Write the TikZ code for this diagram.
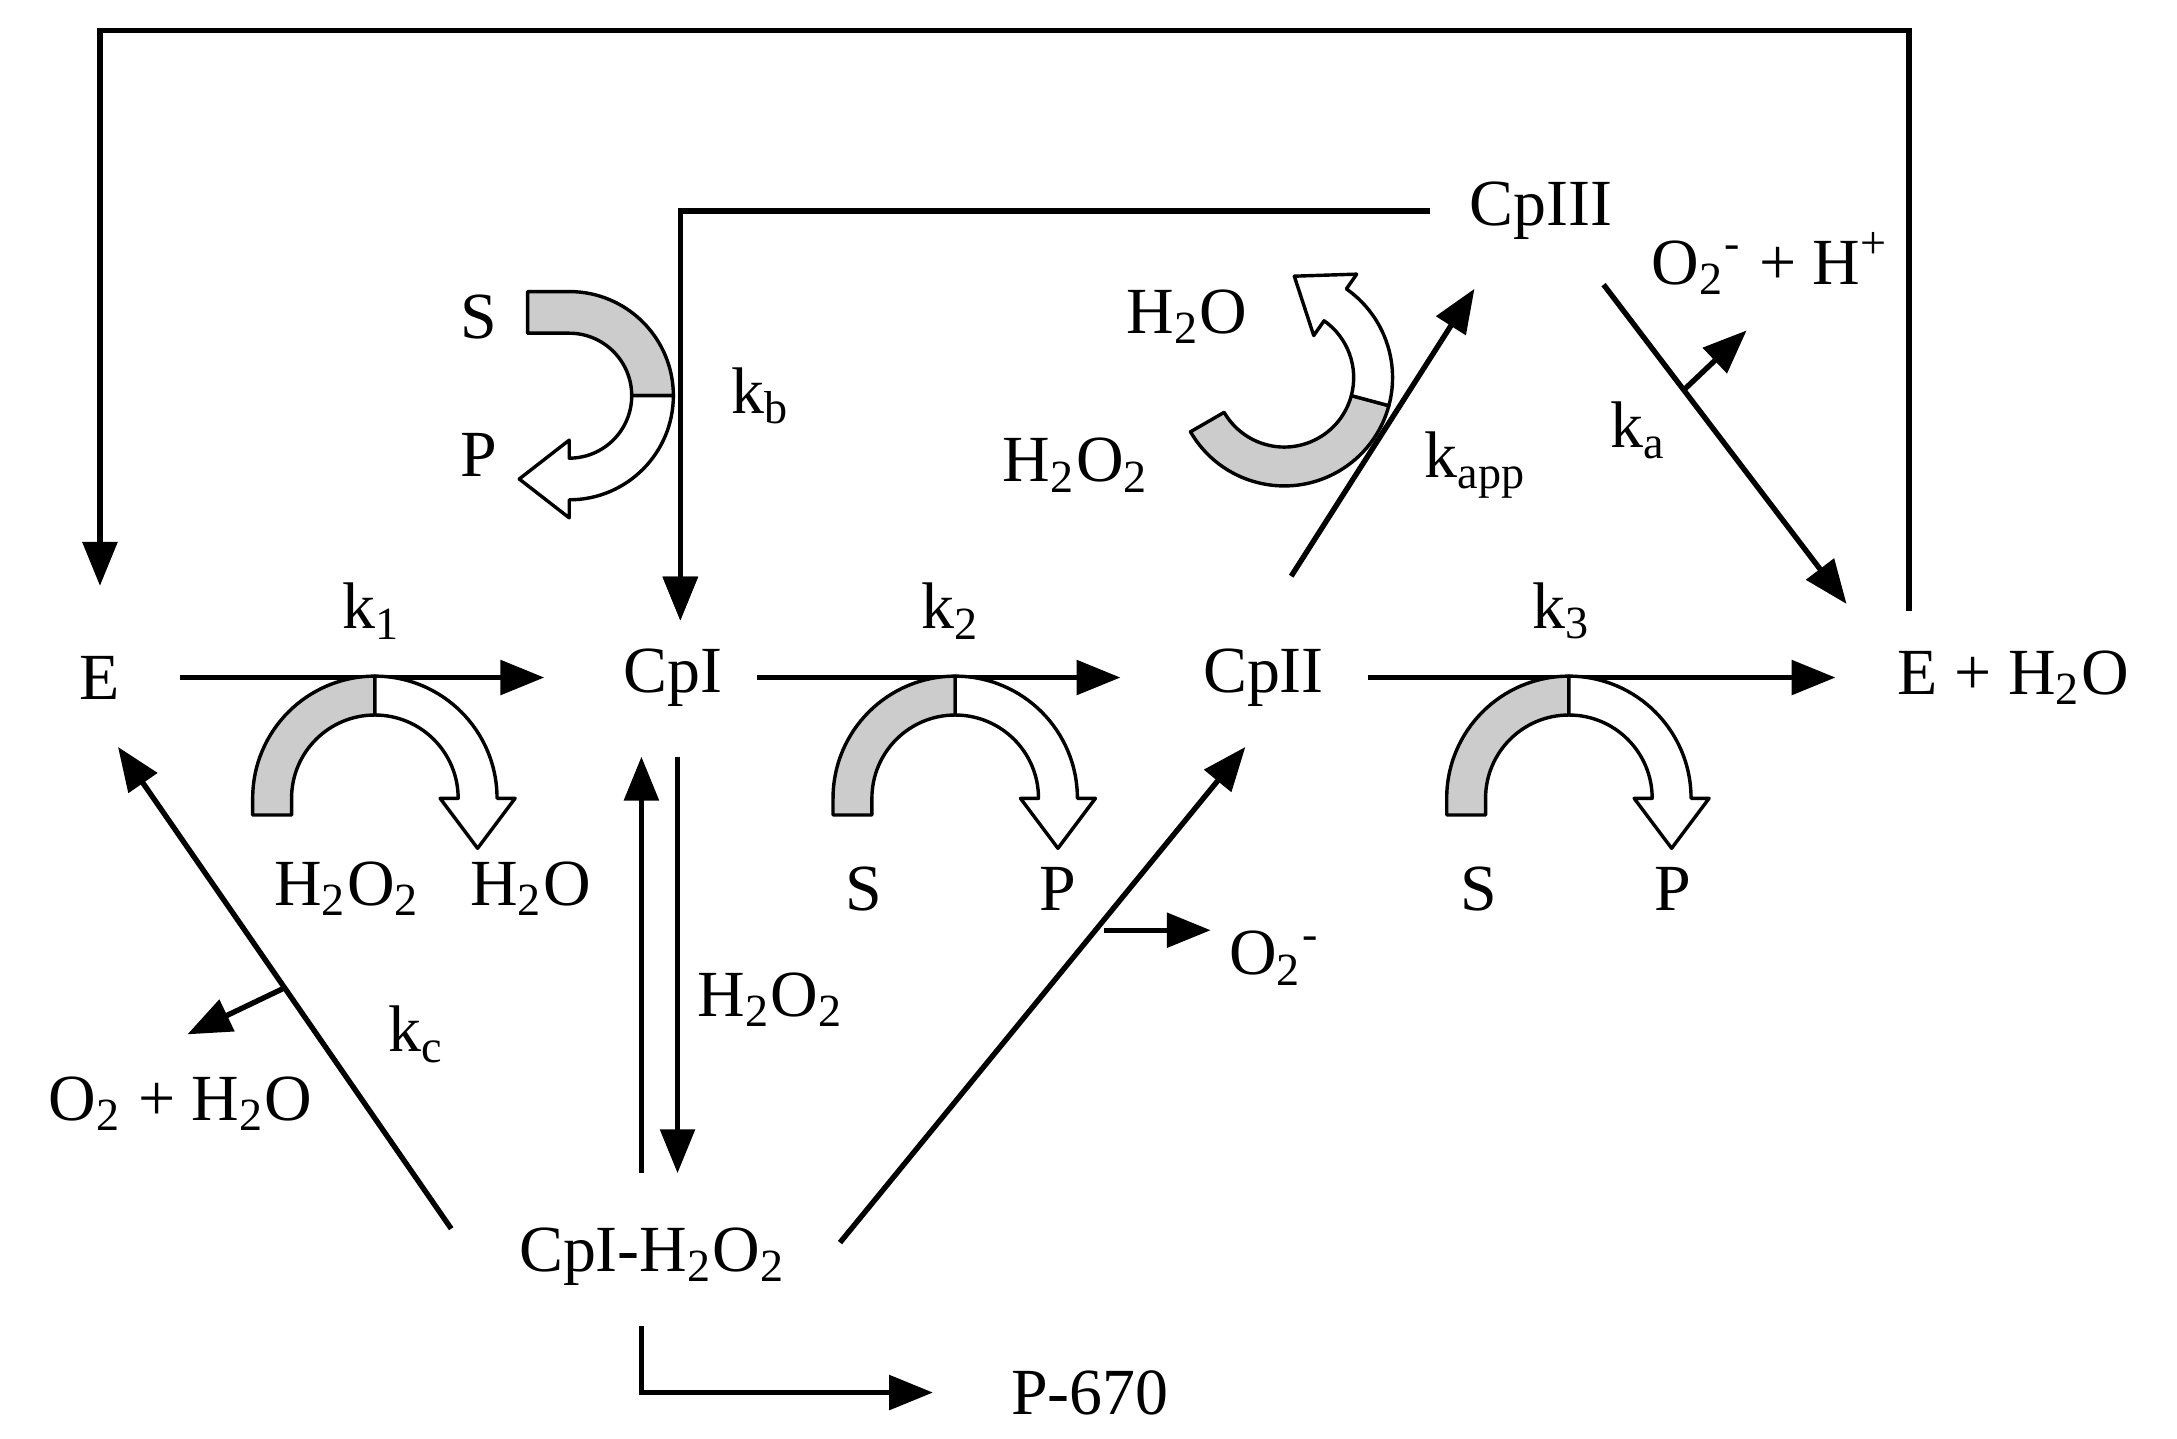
\documentclass[tikz,border=0pt]{standalone}
\usepackage{fontspec}
\setmainfont{Liberation Serif}
\usetikzlibrary{calc,arrows.meta}
\newcommand\bandarrow[9]{%
 \coordinate (bc) at (#1,#2);
 \pgfmathsetmacro\rmid{(#3+#4)/2}
 \pgfmathsetmacro\tb{#5-#8*90}
 \pgfmathsetmacro\te{#7+#8*90}
 \pgfmathsetmacro\ri{#3-13}\pgfmathsetmacro\ro{#4+13}
 \filldraw[band,fill=gray!40] ($(bc)+(#5:#4)+(\tb:#9)$) -- ($(bc)+(#5:#4)$) arc[start angle=#5,end angle=#6,radius=#4]
   -- ($(bc)+(#6:#3)$) arc[start angle=#6,end angle=#5,radius=#3] -- ($(bc)+(#5:#3)+(\tb:#9)$) -- cycle;
 \filldraw[band,fill=white] ($(bc)+(#6:#4)$) arc[start angle=#6,end angle=#7,radius=#4]
   -- ($(bc)+(#7:\ro)$) -- ($(bc)+(#7:\rmid)+(\te:36)$) -- ($(bc)+(#7:\ri)$) -- ($(bc)+(#7:#3)$)
   arc[start angle=#7,end angle=#6,radius=#3] -- cycle;
}
\begin{document}
\begin{tikzpicture}[x=0.1mm,y=-0.1mm,
  lbl/.style={font=\fontsize{13.5}{15}\selectfont,inner sep=1pt},
  ar/.style={line width=1.1pt,-{Triangle[length=9pt,width=7pt]}},
  ln/.style={line width=1.1pt},
  band/.style={line width=0.7pt,line join=round}]
\useasboundingbox (0,0) rectangle (1568,1036);
\node[lbl] (E) at (72,488) {E};
\node[lbl] (CpI) at (485,488) {CpI};
\node[lbl] (CpII) at (910,488) {CpII};
\node[lbl] (EH) at (1450,488) {E + H\textsubscript{2}O};
\node[lbl] (CpIII) at (1110,152) {CpIII};
\node[lbl] (CpIH) at (470,905) {CpI-H\textsubscript{2}O\textsubscript{2}};
\node[lbl] (P670) at (785,1003) {P-670};
\node[lbl] at (268,440) {k\textsubscript{1}};
\node[lbl] at (685,440) {k\textsubscript{2}};
\node[lbl] at (1125,440) {k\textsubscript{3}};
\node[lbl] at (345,228) {S};
\node[lbl] at (548,285) {k\textsubscript{b}};
\node[lbl] at (345,328) {P};
\node[lbl] at (855,228) {H\textsubscript{2}O};
\node[lbl] at (775,335) {H\textsubscript{2}O\textsubscript{2}};
\node[lbl] at (1063,335) {k\textsubscript{app}};
\node[lbl] at (1180,310) {k\textsubscript{a}};
\node[lbl] (o2h) at (1275,190) {O\textsubscript{2}\textsuperscript{-} + H\textsuperscript{+}};
\node[lbl] at (250,640) {H\textsubscript{2}O\textsubscript{2}};
\node[lbl] at (382,640) {H\textsubscript{2}O};
\node[lbl] at (622,640) {S};
\node[lbl] at (762,640) {P};
\node[lbl] at (1065,640) {S};
\node[lbl] at (1205,640) {P};
\node[lbl] at (555,720) {H\textsubscript{2}O\textsubscript{2}};
\node[lbl] (o2m) at (918,690) {O\textsubscript{2}\textsuperscript{-}};
\node[lbl] at (300,745) {k\textsubscript{c}};
\node[lbl] (o2w) at (130,795) {O\textsubscript{2} + H\textsubscript{2}O};
% main arrows
\coordinate (k1a) at (130,488); \coordinate (k1b) at (392,488);
\draw[ar] (k1a) -- (k1b);
\coordinate (k2a) at (545,488); \coordinate (k2b) at (807,488);
\draw[ar] (k2a) -- (k2b);
\coordinate (k3a) at (985,488); \coordinate (k3b) at (1322,488);
\draw[ar] (k3a) -- (k3b);
% top loop
\coordinate (t1) at (1375,440); \coordinate (t2) at (1375,22); \coordinate (t3) at (72,22); \coordinate (t4) at (72,422);
\draw[ar] (t1) -- (t2) -- (t3) -- (t4);
\coordinate (c1) at (1030,152); \coordinate (c2) at (490,152); \coordinate (c3) at (490,447);
\draw[ar] (c1) -- (c2) -- (c3);
% CpI <-> CpI-H2O2
\coordinate (u1) at (462,845); \coordinate (u2) at (462,545);
\draw[ar] (u1) -- (u2);
\coordinate (d1) at (488,545); \coordinate (d2) at (488,845);
\draw[ar] (d1) -- (d2);
% to E
\coordinate (e1) at (325,885); \coordinate (e2) at (85,538);
\draw[ar] (e1) -- (e2);
\coordinate (s1) at ($(e1)!0.5!(e2)$); \coordinate (s2) at (135,745);
\draw[ar] (s1) -- (s2);
% to CpII
\coordinate (f1) at (605,895); \coordinate (f2) at (897,538);
\draw[ar] (f1) -- (f2);
\coordinate (g1) at (795,670); \coordinate (g2) at (872,670);
\draw[ar] (g1) -- (g2);
% to P-670
\coordinate (p1) at (462,955); \coordinate (p2) at (462,1003); \coordinate (p3) at (672,1003);
\draw[ar] (p1) -- (p2) -- (p3);
% CpII -> CpIII
\coordinate (h1) at (930,415); \coordinate (h2) at (1062,208);
% CpIII -> E
\coordinate (i1) at (1155,205); \coordinate (i2) at (1330,435);
\coordinate (j1) at ($(i1)!0.33!(i2)$); \coordinate (j2) at (1258,238);
% band arrows
\bandarrow{270}{575}{60}{88}{180}{270}{360}{1}{12}
\bandarrow{688}{575}{60}{88}{180}{270}{360}{1}{12}
\bandarrow{1130}{575}{60}{88}{180}{270}{360}{1}{12}
\bandarrow{410}{285}{45}{75}{270}{360}{450}{1}{30}
\bandarrow{925}{272}{50}{78}{150}{15}{-55}{-1}{0}
\draw[ar] (h1) -- (h2);
\draw[ar] (i1) -- (i2);
\draw[ar] (j1) -- (j2);
\draw[ar] (c2) -- (c3);
\end{tikzpicture}
\end{document}
